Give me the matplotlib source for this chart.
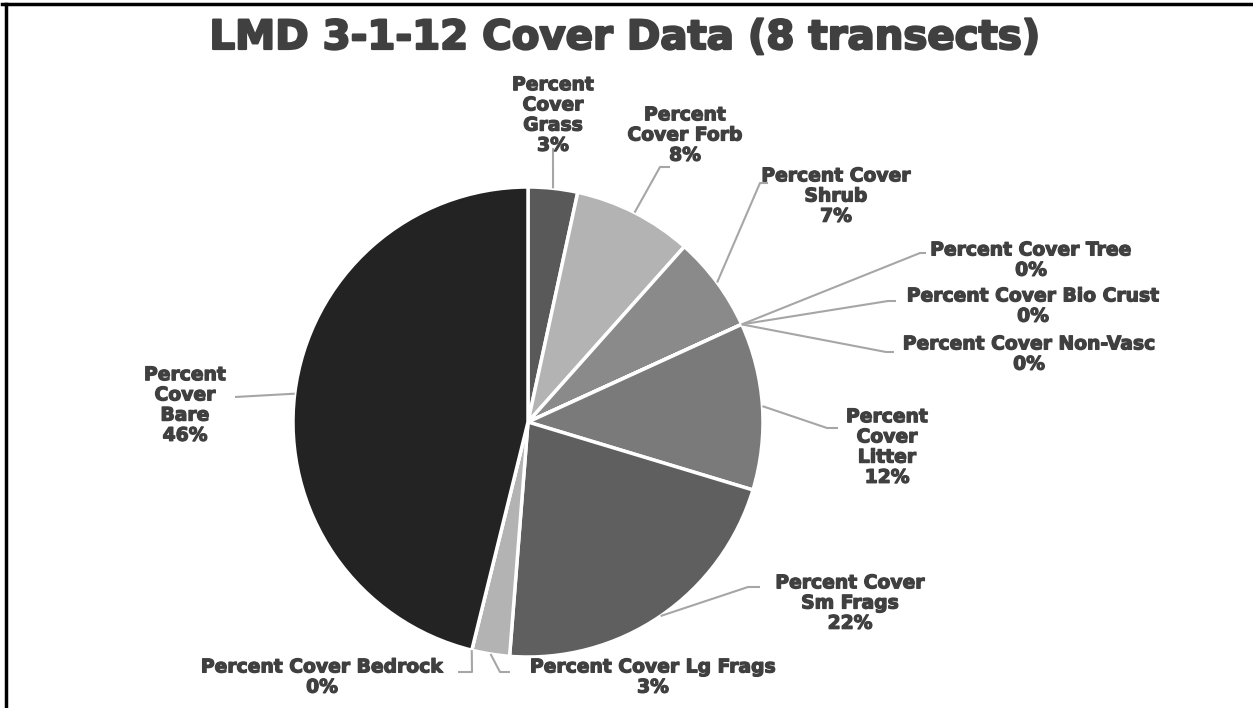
"""Gráfico de tarta: cobertura LMD 3-1-12"""

import numpy as np
import matplotlib.pyplot as plt
import matplotlib.patheffects as pe
from matplotlib.lines import Line2D

# Datos de cobertura (porcentaje), en sentido horario desde arriba
categorias = ['Percent\nCover\nGrass', 'Percent\nCover Forb', 'Percent Cover\nShrub',
              'Percent Cover Tree', 'Percent Cover Bio Crust', 'Percent Cover Non-Vasc',
              'Percent\nCover\nLitter', 'Percent Cover\nSm Frags', 'Percent Cover Lg Frags',
              'Percent Cover Bedrock', 'Percent\nCover\nBare']
valores = [3.4, 8.2, 6.6, 0, 0, 0, 11.5, 21.6, 2.6, 0, 46.2]
colores = ['#595959', '#b3b3b3', '#8a8a8a', '#8a8a8a', '#8a8a8a', '#8a8a8a',
           '#7a7a7a', '#5f5f5f', '#b3b3b3', '#b3b3b3', '#232323']

# Posición de cada etiqueta y codo de la línea guía (en píxeles, y hacia abajo)
pos_texto = [(553, 115), (685, 135), (836, 196), (1031, 260), (1033, 306),
             (1029, 354), (887, 447), (850, 603), (653, 677), (322, 677), (185, 405)]
codos = [None, (660, 167), (760, 183), (920, 253), (888, 301), (886, 352),
         (827, 428), (748, 587), (500, 672), (472, 672), None]
fin_guia = [(553, 148), (670, 167), (768, 183), (926, 253), (896, 301), (894, 352),
            (838, 428), (760, 587), (510, 672), (458, 672), (235, 397)]

W, H = 1253, 708
cx, cy, R = 528, 422, 235
gris_texto = '#404040'
gris_linea = '#a6a6a6'
grueso = [pe.withStroke(linewidth=0.9, foreground=gris_texto)]


def px(x, y):
    return (x, H - y)


fig = plt.figure(figsize=(W / 100, H / 100), dpi=100)
ax = fig.add_axes([0, 0, 1, 1])

wedges, _ = ax.pie(valores, colors=colores, startangle=90, counterclock=False,
                   center=px(cx, cy), radius=R, frame=True,
                   wedgeprops=dict(edgecolor='white', linewidth=2.5))
ax.set_xlim(0, W)
ax.set_ylim(0, H)
ax.set_aspect('equal')
ax.axis('off')

for i, w in enumerate(wedges):
    ang = np.deg2rad((w.theta1 + w.theta2) / 2)
    xs = [cx + R * np.cos(ang)]
    ys = [(H - cy) + R * np.sin(ang)]
    if codos[i] is not None:
        xs.append(codos[i][0])
        ys.append(H - codos[i][1])
    xs.append(fin_guia[i][0])
    ys.append(H - fin_guia[i][1])
    ax.plot(xs, ys, color=gris_linea, lw=1.5, solid_capstyle='butt', zorder=1)

    texto = f'{categorias[i]}\n{valores[i]:.0f}%'
    tx, ty = px(*pos_texto[i])
    ax.text(tx, ty, texto, ha='center', va='center', multialignment='center',
            fontsize=13.5, fontweight='bold', color=gris_texto, linespacing=1.08,
            path_effects=grueso)

ax.text(W / 2 - 2, H - 38, 'LMD 3-1-12 Cover Data (8 transects)', ha='center', va='center',
        fontsize=29, fontweight='bold', color=gris_texto,
        path_effects=[pe.withStroke(linewidth=1.6, foreground=gris_texto)])

# Marco superior e izquierdo
fig.add_artist(Line2D([2 / W, 1], [1 - 4 / H, 1 - 4 / H], transform=fig.transFigure,
                      color='black', lw=2.5))
fig.add_artist(Line2D([6 / W, 6 / W], [0, 1 - 4 / H], transform=fig.transFigure,
                      color='black', lw=2.5))

fig.savefig('out.png', dpi=100)
